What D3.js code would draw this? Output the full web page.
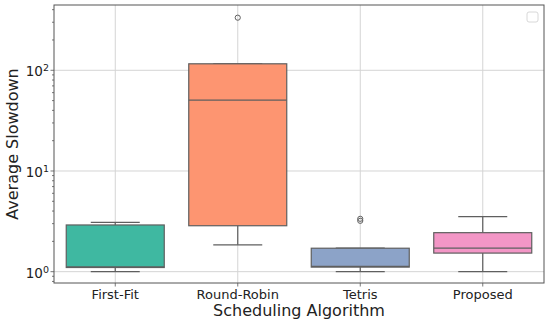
<!DOCTYPE html>
<html>
<head>
<meta charset="utf-8">
<script src="https://cdn.jsdelivr.net/npm/d3@7"></script>
<style>
  body { margin: 0; background: #fff; }
  text { font-family: "DejaVu Sans", sans-serif; fill: #222; }
</style>
</head>
<body>
<svg width="550" height="327"></svg>
<script>
// Data
var algorithms = ["First-Fit", "Round-Robin", "Tetris", "Proposed"];
var whiskerLow = [1.0, 1.85, 1.0, 1.0];
var q1 = [1.10, 2.86, 1.11, 1.53];
var median = [1.12, 50.5, 1.13, 1.71];
var q3 = [2.91, 116, 1.71, 2.44];
var whiskerHigh = [3.09, 116, 1.71, 3.52];
var outliers = [[], [333], [3.2, 3.35], []];
var colors = ["#3fb8a1", "#fd9571", "#8ca3c8", "#f396c6"];
var yTicks = [1, 10, 100];

var svg = d3.select("svg"),
    width = +svg.attr("width"),
    height = +svg.attr("height");

var margin = {left: 54, right: 6, top: 5, bottom: 44};

var x = d3.scaleBand()
    .domain(algorithms)
    .range([margin.left, width - margin.right]);

var y = d3.scaleLog()
    .domain([0.772, 445])
    .range([height - margin.bottom, margin.top]);

var boxW = x.bandwidth() * 0.8;

// grid lines
svg.append("g")
    .selectAll("line.vg")
    .data(algorithms)
    .enter().append("line")
    .attr("x1", d => x(d) + x.bandwidth() / 2)
    .attr("x2", d => x(d) + x.bandwidth() / 2)
    .attr("y1", margin.top)
    .attr("y2", height - margin.bottom)
    .attr("stroke", "#d4d4d4")
    .attr("stroke-width", 1);

svg.append("g")
    .selectAll("line.hg")
    .data(yTicks)
    .enter().append("line")
    .attr("x1", margin.left)
    .attr("x2", width - margin.right)
    .attr("y1", d => y(d))
    .attr("y2", d => y(d))
    .attr("stroke", "#d4d4d4")
    .attr("stroke-width", 1);

// boxes
var data = algorithms.map(function (d, i) {
  return {name: d, lo: whiskerLow[i], q1: q1[i], med: median[i], q3: q3[i],
          hi: whiskerHigh[i], out: outliers[i], color: colors[i]};
});

var boxes = svg.append("g")
    .selectAll("g")
    .data(data)
    .enter().append("g")
    .attr("transform", d => "translate(" + (x(d.name) + x.bandwidth() / 2) + ",0)");

var edge = "#5f5f5f";

// whiskers
boxes.append("line")
    .attr("y1", d => y(d.q3)).attr("y2", d => y(d.hi))
    .attr("stroke", edge).attr("stroke-width", 1.2);
boxes.append("line")
    .attr("y1", d => y(d.q1)).attr("y2", d => y(d.lo))
    .attr("stroke", edge).attr("stroke-width", 1.2);
// caps
boxes.append("line")
    .attr("x1", -boxW / 4).attr("x2", boxW / 4)
    .attr("y1", d => y(d.hi)).attr("y2", d => y(d.hi))
    .attr("stroke", edge).attr("stroke-width", 1.2);
boxes.append("line")
    .attr("x1", -boxW / 4).attr("x2", boxW / 4)
    .attr("y1", d => y(d.lo)).attr("y2", d => y(d.lo))
    .attr("stroke", edge).attr("stroke-width", 1.2);

boxes.append("rect")
    .attr("x", -boxW / 2)
    .attr("width", boxW)
    .attr("y", d => y(d.q3))
    .attr("height", d => y(d.q1) - y(d.q3))
    .attr("fill", d => d.color)
    .attr("stroke", edge)
    .attr("stroke-width", 1.2);

boxes.append("line")
    .attr("x1", -boxW / 2).attr("x2", boxW / 2)
    .attr("y1", d => y(d.med)).attr("y2", d => y(d.med))
    .attr("stroke", edge).attr("stroke-width", 1.2);

boxes.selectAll("circle")
    .data(d => d.out)
    .enter().append("circle")
    .attr("cy", d => y(d))
    .attr("r", 2.6)
    .attr("fill", "none")
    .attr("stroke", edge)
    .attr("stroke-width", 1);

// frame
svg.append("rect")
    .attr("x", margin.left)
    .attr("y", margin.top)
    .attr("width", width - margin.left - margin.right)
    .attr("height", height - margin.top - margin.bottom)
    .attr("fill", "none")
    .attr("stroke", "#555")
    .attr("stroke-width", 1);

// y minor ticks
var minor = [];
for (var e = -1; e <= 2; e++) {
  for (var m = 2; m <= 9; m++) {
    var v = m * Math.pow(10, e);
    if (v >= y.domain()[0] && v <= y.domain()[1]) minor.push(v);
  }
}
svg.append("g")
    .selectAll("line")
    .data(minor)
    .enter().append("line")
    .attr("x1", margin.left - 2).attr("x2", margin.left)
    .attr("y1", d => y(d)).attr("y2", d => y(d))
    .attr("stroke", "#555").attr("stroke-width", 0.8);

// y major ticks and labels
var yt = svg.append("g")
    .selectAll("g")
    .data(yTicks)
    .enter().append("g")
    .attr("transform", d => "translate(0," + y(d) + ")");
yt.append("line")
    .attr("x1", margin.left - 3.5).attr("x2", margin.left)
    .attr("stroke", "#555").attr("stroke-width", 0.8);
var lbl = yt.append("text")
    .attr("x", margin.left - 5)
    .attr("dy", "0.45em")
    .attr("text-anchor", "end")
    .style("font-size", "13.5px");
lbl.append("tspan").text("10");
lbl.append("tspan")
    .attr("dy", "-0.55em")
    .style("font-size", "9.5px")
    .text(d => String(Math.round(Math.log10(d))));

// x ticks and labels
var xt = svg.append("g")
    .selectAll("g")
    .data(algorithms)
    .enter().append("g")
    .attr("transform", d => "translate(" + (x(d) + x.bandwidth() / 2) + "," + (height - margin.bottom) + ")");
xt.append("line")
    .attr("y2", 3.5)
    .attr("stroke", "#555").attr("stroke-width", 0.8);
xt.append("text")
    .attr("y", 16)
    .attr("text-anchor", "middle")
    .style("font-size", "13px")
    .text(d => d);

// axis titles
svg.append("text")
    .attr("x", (margin.left + width - margin.right) / 2)
    .attr("y", 316)
    .attr("text-anchor", "middle")
    .style("font-size", "16px")
    .text("Scheduling Algorithm");

svg.append("text")
    .attr("transform", "translate(18," + ((margin.top + height - margin.bottom) / 2) + ") rotate(-90)")
    .attr("text-anchor", "middle")
    .style("font-size", "16px")
    .text("Average Slowdown");

// empty legend frame
svg.append("rect")
    .attr("x", 527)
    .attr("y", 12)
    .attr("width", 11)
    .attr("height", 10)
    .attr("rx", 2)
    .attr("fill", "#fff")
    .attr("stroke", "#d8d8d8")
    .attr("stroke-width", 1);
</script>
</body>
</html>
